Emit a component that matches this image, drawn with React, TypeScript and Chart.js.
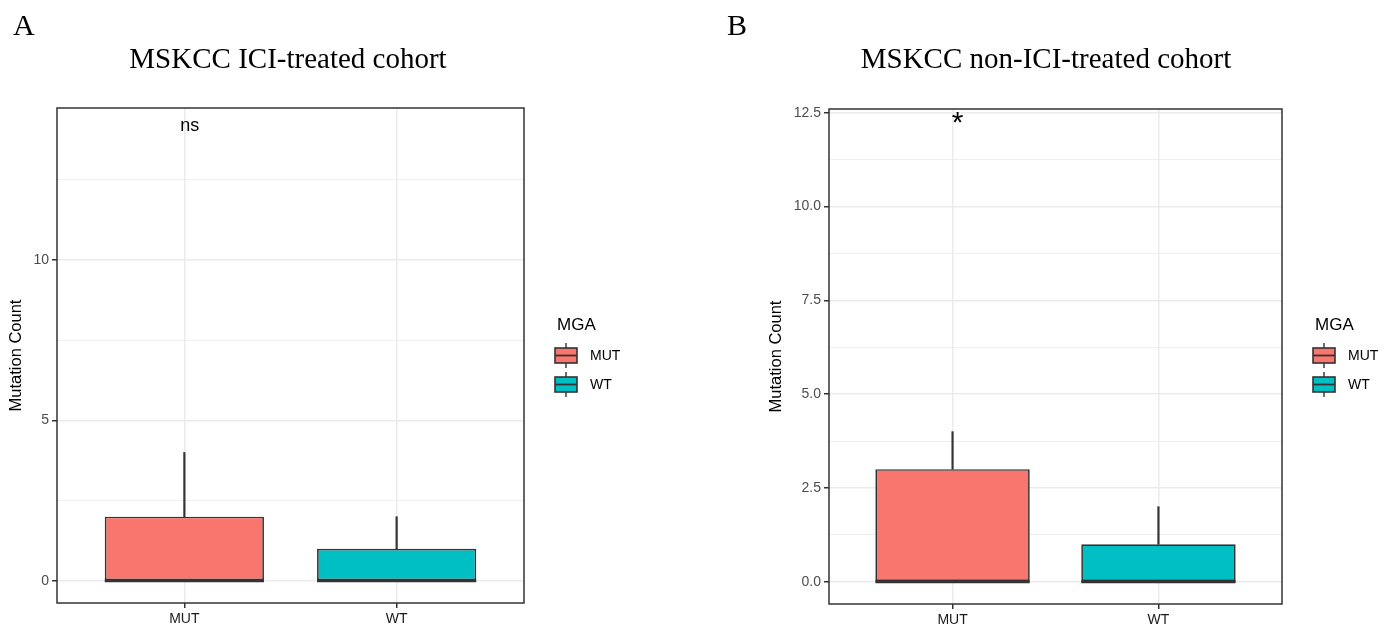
import React, { useEffect, useRef } from 'react';
import { Chart, registerables } from 'chart.js';

Chart.register(...registerables);

// ---------- shared data ----------
const categories = ['MUT', 'WT'];
const categoryPositions = [1, 2];
const fillColors = ['#F8766D', '#00BFC4'];
const legendTitle = 'MGA';
const yAxisTitle = 'Mutation Count';

// ---------- panel A ----------
const aLetter = 'A';
const aTitle = 'MSKCC ICI-treated cohort';
const aMin = [0, 0];
const aQ1 = [0, 0];
const aMedian = [0, 0];
const aQ3 = [2, 1];
const aMax = [4, 2];
const aMajorTicks = [0, 5, 10];
const aMajorLabels = ['0', '5', '10'];
const aMinorTicks = [2.5, 7.5, 12.5];
const aYRange = [-0.69, 14.73];
const aSigLabel = 'ns';
const aSigX = 1.025;
const aSigY = 14.0;

// ---------- panel B ----------
const bLetter = 'B';
const bTitle = 'MSKCC non-ICI-treated cohort';
const bMin = [0, 0];
const bQ1 = [0, 0];
const bMedian = [0, 0];
const bQ3 = [3, 1];
const bMax = [4, 2];
const bMajorTicks = [0, 2.5, 5, 7.5, 10, 12.5];
const bMajorLabels = ['0.0', '2.5', '5.0', '7.5', '10.0', '12.5'];
const bMinorTicks = [1.25, 3.75, 6.25, 8.75, 11.25];
const bYRange = [-0.594, 12.6];
const bSigLabel = '*';
const bSigX = 1.025;
const bSigY = 12.0;

const SANS = "'Liberation Sans', Arial, Helvetica, sans-serif";
const SERIF = "'Liberation Serif', 'Times New Roman', Times, serif";
const DARK = '#333333';

type PanelCfg = {
  canvasLeft: number;
  canvasWidth: number;
  area: { left: number; top: number; right: number; bottom: number };
  padLeft: number;
  letter: string;
  letterX: number;
  title: string;
  titleX: number;
  legendX: number;
  min: number[];
  q1: number[];
  median: number[];
  q3: number[];
  max: number[];
  majorTicks: number[];
  majorLabels: string[];
  minorTicks: number[];
  yRange: number[];
  sigLabel: string;
  sigX: number;
  sigY: number;
  sigFont: number;
};

const panels: PanelCfg[] = [
  {
    canvasLeft: 0,
    canvasWidth: 700,
    area: { left: 57, top: 108, right: 524, bottom: 603 },
    padLeft: 0,
    letter: aLetter,
    letterX: 13,
    title: aTitle,
    titleX: 288,
    legendX: 555,
    min: aMin,
    q1: aQ1,
    median: aMedian,
    q3: aQ3,
    max: aMax,
    majorTicks: aMajorTicks,
    majorLabels: aMajorLabels,
    minorTicks: aMinorTicks,
    yRange: aYRange,
    sigLabel: aSigLabel,
    sigX: aSigX,
    sigY: aSigY,
    sigFont: 18,
  },
  {
    canvasLeft: 700,
    canvasWidth: 685,
    area: { left: 129, top: 109, right: 582, bottom: 604 },
    padLeft: 60,
    letter: bLetter,
    letterX: 27,
    title: bTitle,
    titleX: 346,
    legendX: 613,
    min: bMin,
    q1: bQ1,
    median: bMedian,
    q3: bQ3,
    max: bMax,
    majorTicks: bMajorTicks,
    majorLabels: bMajorLabels,
    minorTicks: bMinorTicks,
    yRange: bYRange,
    sigLabel: bSigLabel,
    sigX: bSigX,
    sigY: bSigY,
    sigFont: 30,
  },
];

const CANVAS_H = 627;

function makePlugin(p: PanelCfg) {
  return {
    id: 'boxDecor',
    afterDatasetsDraw(chart: any) {
      const ctx = chart.ctx;
      const ys = chart.scales.y;
      const xs = chart.scales.x;
      const boxMeta = chart.getDatasetMeta(0);
      ctx.save();
      // medians
      ctx.strokeStyle = DARK;
      ctx.lineWidth = 3;
      ctx.lineCap = 'butt';
      p.median.forEach((m, i) => {
        const el = boxMeta.data[i];
        if (!el) return;
        const half = el.width / 2;
        const y = ys.getPixelForValue(m);
        ctx.beginPath();
        ctx.moveTo(el.x - half, y);
        ctx.lineTo(el.x + half, y);
        ctx.stroke();
      });
      // panel border
      const ca = chart.chartArea;
      ctx.lineWidth = 1.5;
      ctx.strokeRect(ca.left, ca.top, ca.right - ca.left, ca.bottom - ca.top);
      // significance label
      ctx.fillStyle = '#000';
      ctx.font = `${p.sigFont}px ${SANS}`;
      ctx.textAlign = 'center';
      ctx.textBaseline = 'alphabetic';
      ctx.fillText(p.sigLabel, xs.getPixelForValue(p.sigX), ys.getPixelForValue(p.sigY));
      ctx.restore();
    },
    afterDraw(chart: any) {
      const ctx = chart.ctx;
      ctx.save();
      // panel letter
      ctx.fillStyle = '#000';
      ctx.textBaseline = 'alphabetic';
      ctx.textAlign = 'left';
      ctx.font = `30px ${SERIF}`;
      ctx.fillText(p.letter, p.letterX, 35);
      // title
      ctx.textAlign = 'center';
      ctx.font = `29px ${SERIF}`;
      ctx.fillText(p.title, p.titleX, 68);
      // legend
      ctx.textAlign = 'left';
      ctx.font = `17px ${SANS}`;
      ctx.fillStyle = '#000';
      ctx.fillText(legendTitle, p.legendX + 2, 330);
      const keyW = 22;
      const keyH = 15;
      const rowTops = [348, 377];
      categories.forEach((c, i) => {
        const top = rowTops[i];
        const cx = p.legendX + keyW / 2;
        ctx.strokeStyle = DARK;
        ctx.lineWidth = 1.4;
        ctx.beginPath();
        ctx.moveTo(cx, top - 5);
        ctx.lineTo(cx, top + keyH + 5);
        ctx.stroke();
        ctx.fillStyle = fillColors[i];
        ctx.fillRect(p.legendX, top, keyW, keyH);
        ctx.lineWidth = 1.6;
        ctx.strokeRect(p.legendX, top, keyW, keyH);
        ctx.lineWidth = 1.8;
        ctx.beginPath();
        ctx.moveTo(p.legendX, top + keyH / 2);
        ctx.lineTo(p.legendX + keyW, top + keyH / 2);
        ctx.stroke();
        ctx.fillStyle = '#000';
        ctx.font = `14px ${SANS}`;
        ctx.textBaseline = 'middle';
        ctx.fillText(c, p.legendX + 35, top + keyH / 2 + 1);
        ctx.textBaseline = 'alphabetic';
      });
      ctx.restore();
    },
  };
}

function Panel({ p }: { p: PanelCfg }) {
  const ref = useRef<HTMLCanvasElement | null>(null);
  useEffect(() => {
    if (!ref.current) return;
    const isMajor = (v: number) => p.majorTicks.indexOf(v) >= 0;
    const yTicks = [...p.majorTicks, ...p.minorTicks].sort((a, b) => a - b);
    const chart = new Chart(ref.current, {
      type: 'bar',
      data: {
        datasets: [
          {
            label: 'box',
            data: categoryPositions.map((x, i) => ({ x, y: [p.q1[i], p.q3[i]] })) as any,
            backgroundColor: fillColors,
            borderColor: DARK,
            borderWidth: 1.7,
            borderSkipped: false,
            categoryPercentage: 1,
            barPercentage: 0.75,
            grouped: false,
            order: 0,
          } as any,
          {
            label: 'upper whisker',
            data: categoryPositions.map((x, i) => ({ x, y: [p.q3[i], p.max[i]] })) as any,
            backgroundColor: DARK,
            borderWidth: 0,
            barThickness: 1.5,
            grouped: false,
            order: 1,
          } as any,
          {
            label: 'lower whisker',
            data: categoryPositions.map((x, i) => ({ x, y: [p.min[i], p.q1[i]] })) as any,
            backgroundColor: DARK,
            borderWidth: 0,
            barThickness: 1.5,
            grouped: false,
            order: 2,
          } as any,
        ],
      },
      options: {
        animation: false,
        responsive: false,
        maintainAspectRatio: false,
        layout: {
          padding: {
            left: p.padLeft,
            top: p.area.top,
            right: p.canvasWidth - p.area.right,
            bottom: 0,
          },
        },
        plugins: {
          legend: { display: false },
          title: { display: false },
          tooltip: { enabled: false },
        },
        scales: {
          x: {
            type: 'linear',
            min: 0.4,
            max: 2.6,
            offset: false,
            afterBuildTicks: (s: any) => {
              s.ticks = categoryPositions.map((v) => ({ value: v }));
            },
            afterFit: (s: any) => {
              s.height = CANVAS_H - p.area.bottom;
            },
            ticks: {
              autoSkip: false,
              maxRotation: 0,
              padding: 3,
              color: '#1a1a1a',
              font: { family: SANS, size: 14 },
              callback: (_v: any, i: number) => categories[i],
            },
            grid: {
              offset: false,
              color: '#ebebeb',
              lineWidth: 1.5,
              tickColor: DARK,
              tickLength: 5,
            },
            border: { display: false },
          },
          y: {
            type: 'linear',
            min: p.yRange[0],
            max: p.yRange[1],
            afterBuildTicks: (s: any) => {
              s.ticks = yTicks.map((v) => ({ value: v }));
            },
            afterFit: (s: any) => {
              s.width = p.area.left - p.padLeft;
            },
            ticks: {
              autoSkip: false,
              padding: 3,
              color: '#4d4d4d',
              font: { family: SANS, size: 14 },
              callback: (v: any) => {
                const idx = p.majorTicks.indexOf(Number(v));
                return idx >= 0 ? p.majorLabels[idx] : '';
              },
            },
            grid: {
              color: '#ebebeb',
              lineWidth: (c: any) => (c.tick && isMajor(c.tick.value) ? 1.5 : 0.8),
              tickColor: (c: any) => (c.tick && isMajor(c.tick.value) ? DARK : 'rgba(0,0,0,0)'),
              tickLength: 5,
            },
            border: { display: false },
            title: {
              display: true,
              text: yAxisTitle,
              color: '#000',
              font: { family: SANS, size: 16.5 },
              padding: { top: 7, bottom: 0 },
            },
          },
        },
      } as any,
      plugins: [makePlugin(p)],
    });
    return () => chart.destroy();
  }, [p]);
  return (
    <div style={{ position: 'absolute', left: p.canvasLeft, top: 0, width: p.canvasWidth, height: CANVAS_H }}>
      <canvas ref={ref} width={p.canvasWidth} height={CANVAS_H} style={{ display: 'block' }} />
    </div>
  );
}

export default function App() {
  return (
    <div style={{ position: 'absolute', left: 0, top: 0, width: 1385, height: CANVAS_H, background: '#ffffff', overflow: 'hidden' }}>
      {panels.map((p, i) => (
        <Panel key={i} p={p} />
      ))}
    </div>
  );
}
